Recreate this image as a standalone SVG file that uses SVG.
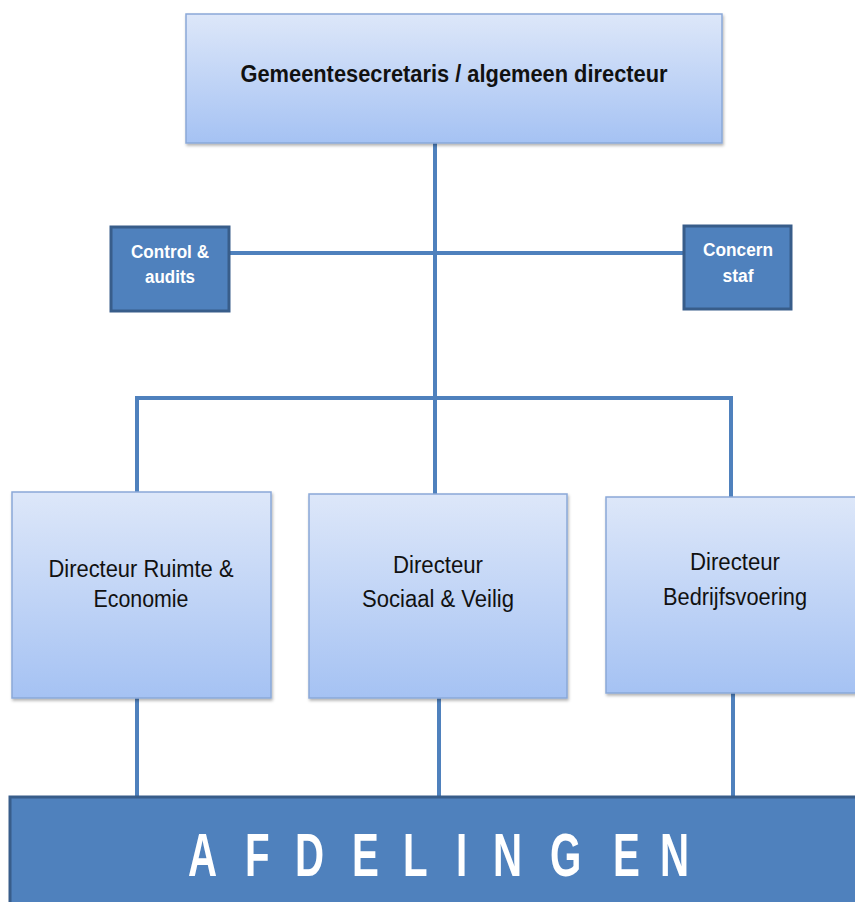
<svg xmlns="http://www.w3.org/2000/svg" width="855" height="902" viewBox="0 0 855 902">
<defs>
<linearGradient id="lg" x1="0" y1="0" x2="0" y2="1">
<stop offset="0" stop-color="#dde7f9"/>
<stop offset="1" stop-color="#a5c2f3"/>
</linearGradient>
<filter id="sh" x="-5%" y="-5%" width="110%" height="115%">
<feDropShadow dx="1" dy="2" stdDeviation="1.5" flood-color="#000" flood-opacity="0.3"/>
</filter>
<style>
.lt{fill:url(#lg);stroke:#8aa8d8;stroke-width:1.5;filter:url(#sh)}
.dk{fill:#4f81bd;stroke:#385d8a;stroke-width:3}
.ln{stroke:#4f81bd;stroke-width:4;fill:none}
.t{font-family:"Liberation Sans",Arial,sans-serif;fill:#111;text-anchor:middle}
.w{font-family:"Liberation Sans",Arial,sans-serif;fill:#fff;font-weight:bold;text-anchor:middle}
</style>
</defs>
<g id="connectors">
<line class="ln" x1="435" y1="143" x2="435" y2="494"/>
<line class="ln" x1="230" y1="253" x2="683" y2="253"/>
<polyline class="ln" points="137,492 137,398 731,398 731,497"/>
<line class="ln" x1="137" y1="698" x2="137" y2="797"/>
<line class="ln" x1="439" y1="698" x2="439" y2="797"/>
<line class="ln" x1="733" y1="693" x2="733" y2="797"/>
</g>
<g id="top">
<rect class="lt" x="186" y="14" width="536" height="129"/>
<text class="t" x="454" y="82" font-size="24" font-weight="bold" textLength="427" lengthAdjust="spacingAndGlyphs">Gemeentesecretaris / algemeen directeur</text>
</g>
<g id="control">
<rect class="dk" x="111" y="227" width="118" height="84"/>
<text class="w" x="170" y="258" font-size="18" textLength="78" lengthAdjust="spacingAndGlyphs">Control &amp;</text>
<text class="w" x="170" y="283" font-size="18" textLength="50" lengthAdjust="spacingAndGlyphs">audits</text>
</g>
<g id="concern">
<rect class="dk" x="684" y="226" width="107" height="83"/>
<text class="w" x="738" y="256" font-size="18" textLength="70" lengthAdjust="spacingAndGlyphs">Concern</text>
<text class="w" x="738" y="282" font-size="18" textLength="31" lengthAdjust="spacingAndGlyphs">staf</text>
</g>
<g id="dir-ruimte">
<rect class="lt" x="12" y="492" width="259" height="206"/>
<text class="t" x="141" y="577" font-size="23" textLength="185" lengthAdjust="spacingAndGlyphs">Directeur Ruimte &amp;</text>
<text class="t" x="141" y="607" font-size="23" textLength="95" lengthAdjust="spacingAndGlyphs">Economie</text>
</g>
<g id="dir-sociaal">
<rect class="lt" x="309" y="494" width="258" height="204"/>
<text class="t" x="438" y="573" font-size="23" textLength="90" lengthAdjust="spacingAndGlyphs">Directeur</text>
<text class="t" x="438" y="607" font-size="23" textLength="152" lengthAdjust="spacingAndGlyphs">Sociaal &amp; Veilig</text>
</g>
<g id="dir-bedrijf">
<rect class="lt" x="606" y="497" width="260" height="196"/>
<text class="t" x="735" y="570" font-size="23" textLength="90" lengthAdjust="spacingAndGlyphs">Directeur</text>
<text class="t" x="735" y="605" font-size="23" textLength="144" lengthAdjust="spacingAndGlyphs">Bedrijfsvoering</text>
</g>
<g id="afdelingen">
<rect class="dk" x="10" y="797" width="860" height="115" stroke-width="2"/>
<text class="w" style="text-anchor:start" font-size="61" transform="translate(0,876) scale(0.66,1)" x="284.8 371.2 447 533.3 610.6 690.9 747 833.3 928.8 1000" y="0">AFDELINGEN</text>
</g>
</svg>
